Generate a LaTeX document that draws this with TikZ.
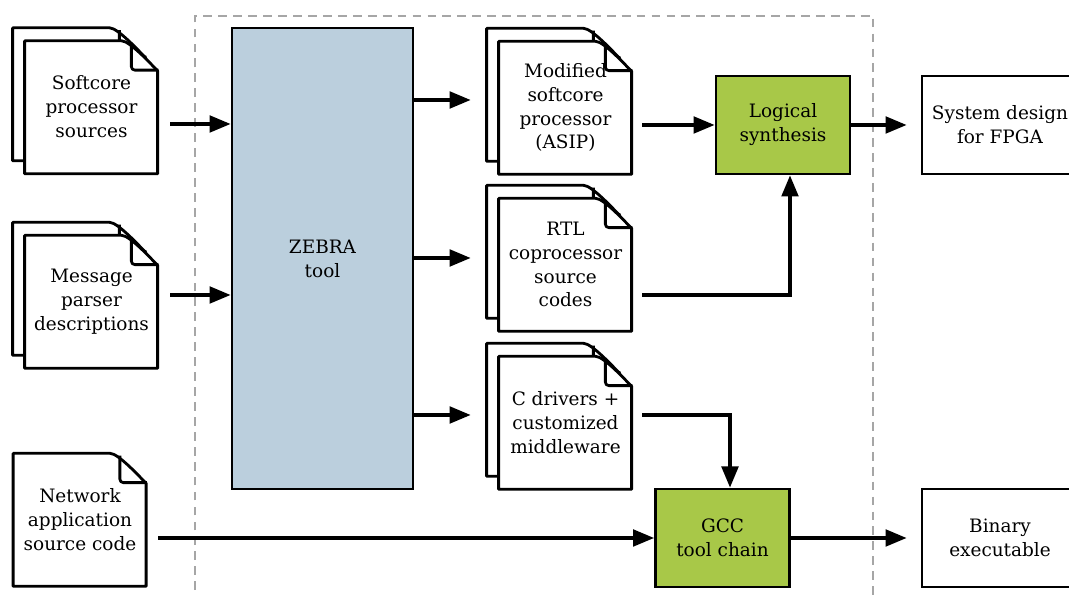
\documentclass[tikz,border=0pt]{standalone}
\usepackage{fontspec}
\setmainfont{DejaVu Serif}
\usepackage{tikz}
\usetikzlibrary{arrows.meta,calc}
\tikzset{>={Triangle[length=12pt,width=9.5pt]}}
\pgfdeclarelayer{back}
\pgfsetlayers{back,main}
\definecolor{zebrablue}{RGB}{187,207,221}
\definecolor{synthgreen}{RGB}{168,200,72}
\tikzstyle{label font}=[font=\fontsize{10.5}{13.6}\selectfont]
\tikzstyle{box}=[label font,draw=black,line width=1.6pt,inner sep=0,align=center,minimum height=1.96cm]
\tikzstyle{tool}=[box,fill=synthgreen,minimum width=2.68cm]
\tikzstyle{result}=[box,fill=white,minimum width=3.12cm]
\tikzstyle{doc}=[label font,inner sep=0,align=center,minimum width=2.66cm,minimum height=2.66cm]
\tikzstyle{page}=[draw=black,fill=white,line width=1.6pt,line join=round]
\tikzstyle{flow}=[->,line width=1.8pt]
\tikzstyle{frame}=[black!35,line width=1.1pt,dash pattern=on 5pt off 3.5pt]
\def\Sz{2.66}
\def\Fx{0.72}
\def\Fy{0.6}
\def\Fin{0.54}
% one sheet with a folded corner, #2 #3 = offset from the node
\newcommand{\docpage}[3]{%
  \filldraw[page] ($(#1.south west)+(#2,#3)$) -- ++(0,\Sz) -- ++(\Sz-\Fx,0)
    to[out=0,in=135,looseness=0.45] ++(\Fx,-\Fy) -- ++(0,\Fy-\Sz) -- cycle;
  \draw[page,fill=none,rounded corners=2pt] ($(#1.north east)+(#2,#3)$) ++(-\Fin,-0.06)
    |- ++(\Fin,-\Fy+0.06);
}

\begin{document}
\begin{tikzpicture}
  \useasboundingbox (0,0) rectangle (21.38,11.9);

  % INPUTS
  \node[doc] (soft)   at (1.83,9.76) {Softcore\\processor\\sources};
  \node[doc] (parser) at (1.83,5.87) {Message\\parser\\descriptions};
  \node[doc] (app)    at (1.60,1.51) {Network\\application\\source code};

  % ZEBRA
  \node[box,fill=zebrablue,minimum width=3.62cm,minimum height=9.22cm] (zebra)
    at (6.45,6.73) {ZEBRA\\tool};

  % GENERATED FILES
  \node[doc] (asip) at (11.31,9.75) {Modified\\softcore\\processor\\(ASIP)};
  \node[doc] (rtl)  at (11.31,6.61) {RTL\\coprocessor\\source\\codes};
  \node[doc] (drv)  at (11.31,3.45) {C drivers +\\customized\\middleware};

  % TOOLS AND RESULTS
  \node[tool]   (synth) at (15.66,9.40) {Logical\\synthesis};
  \node[tool]   (gcc)   at (14.45,1.14) {GCC\\tool chain};
  \node[result] (fpga)  at (20.00,9.40) {System design\\for FPGA};
  \node[result] (bin)   at (20.00,1.14) {Binary\\executable};

  % SHEETS
  \begin{pgfonlayer}{back}
    \foreach \n in {soft,parser,asip,rtl,drv}{\docpage{\n}{-0.24}{0.26}}
    \foreach \n in {soft,parser,app,asip,rtl,drv}{\docpage{\n}{0}{0}}
  \end{pgfonlayer}

  % FRAME
  \draw[frame] (3.9,-0.2) |- (17.46,11.58) -- (17.46,-0.2);

  % FLOW
  \coordinate (s1) at ($(soft.east)+(0.24,-0.34)$);
  \coordinate (s2) at ($(parser.east)+(0.24,0.13)$);
  \coordinate (g1) at ($(asip.west)+(-0.56,0.15)$);
  \coordinate (g2) at ($(rtl.west)+(-0.56,0.13)$);
  \coordinate (g3) at ($(drv.west)+(-0.56,0.15)$);
  \coordinate (o1) at ($(asip.east |- synth.west)+(0.2,0)$);
  \coordinate (o2) at ($(rtl.east)+(0.2,-0.61)$);
  \coordinate (o3) at ($(drv.east)+(0.2,0.15)$);
  \coordinate (n1) at ($(app.east |- gcc.west)+(0.23,0)$);
  \draw[flow] (s1) -- (s1 -| zebra.west);
  \draw[flow] (s2) -- (s2 -| zebra.west);
  \draw[flow] (g1 -| zebra.east) -- (g1);
  \draw[flow] (g2 -| zebra.east) -- (g2);
  \draw[flow] (g3 -| zebra.east) -- (g3);
  \draw[flow] (o1) -- (synth.west);
  \draw[flow] (o2) -| ($(synth.south)+(0.14,0)$);
  \draw[flow] (o3) -| ($(gcc.north)+(0.15,0)$);
  \draw[flow] (n1) -- (gcc.west);
  \draw[flow] (synth.east) -- ($(fpga.west)+(-0.28,0)$);
  \draw[flow] (gcc.east) -- ($(bin.west)+(-0.28,0)$);
\end{tikzpicture}
\end{document}
